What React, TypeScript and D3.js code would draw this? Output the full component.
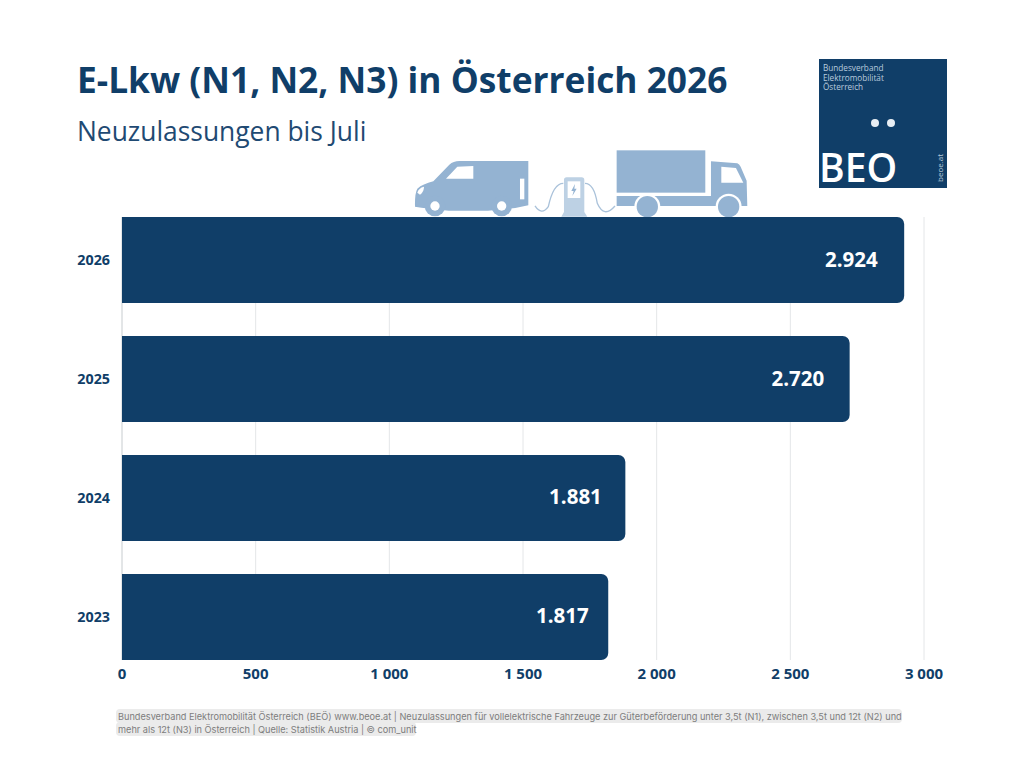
import * as d3 from 'd3';
import React from 'react';

const years = ['2026', '2025', '2024', '2023'];
const registrations = [2924, 2720, 1881, 1817];
const valueLabels = ['2.924', '2.720', '1.881', '1.817'];
const xTicks = [0, 500, 1000, 1500, 2000, 2500, 3000];

const navy = '#103e68';
const iconBlue = '#94b3d2';
const bodyFont = '"Open Sans", sans-serif';
const noteFont = 'Inter, sans-serif';

// labels don't sit at one fixed distance from the bar end in the original
const labelInsets = [26, 25, 23, 19];

const noteLines = [
    'Bundesverband Elektromobilität Österreich (BEÖ) www.beoe.at | Neuzulassungen für vollelektrische Fahrzeuge zur Güterbeförderung unter 3,5t (N1), zwischen 3,5t und 12t (N2) und',
    'mehr als 12t (N3) in Österreich | Quelle: Statistik Austria | © com_unit',
];

const x = d3.scaleLinear().domain([0, 3000]).range([122, 924]);
const y = d3
    .scaleBand<string>()
    .domain(years)
    .range([200.5, 676.5])
    .paddingInner(0.277)
    .paddingOuter(0.139);

// bar with rounded right corners only
const barPath = (x1: number, top: number, h: number, r = 7) => {
    const p = d3.path();
    p.moveTo(x(0), top);
    p.lineTo(x1 - r, top);
    p.arcTo(x1, top, x1, top + r, r);
    p.lineTo(x1, top + h - r);
    p.arcTo(x1, top + h, x1 - r, top + h, r);
    p.lineTo(x(0), top + h);
    p.closePath();
    return p.toString();
};

// drawn 3x and scaled down
const VehicleIcons = () => (
    <g transform="translate(400,140) scale(0.3333)">
        <path
            fill={iconBlue}
            d="M385,63 L178,63 Q160,63 148,74 L100,124 Q68,132 52,146 Q44,160 45,200 L64,203 L146,212 L264,212 L346,204 L385,196 Z"
        />
        <path fill="#fff" d="M138,116 L172,80 L220,78 L220,116 Z" />
        <rect x="360" y="116" width="13" height="62" fill="#fff" />
        <circle cx="105" cy="198" r="31" fill={iconBlue} />
        <circle cx="105" cy="198" r="14" fill="#fff" />
        <circle cx="305" cy="198" r="31" fill={iconBlue} />
        <circle cx="305" cy="198" r="14" fill="#fff" />
        <path fill="#fff" d="M52,158 Q56,144 72,140 Q72,156 60,164 Z" />

        <path fill="none" stroke="#aac2da" strokeWidth="4" d="M405,198 Q425,228 445,200 Q460,130 490,130" />
        <path fill="none" stroke="#aac2da" strokeWidth="4" d="M555,130 Q582,130 592,190 Q612,236 645,198" />
        <path fill="#bdd1e4" d="M492,120 Q492,112 500,112 L545,112 Q553,112 553,120 L553,216 L562,230 L484,230 L492,216 Z" />
        <rect x="503" y="124" width="38" height="50" fill="#fff" />
        <path fill={iconBlue} d="M525,132 L514,153 L521,153 L517,168 L530,146 L523,146 Z" />

        <rect x="650" y="31" width="266" height="127" fill={iconBlue} />
        <path
            fill={iconBlue}
            d="M933,64 L1012,70 Q1018,72 1022,80 L1040,122 L1042,198 L650,198 L650,168 L933,168 Z"
        />
        <path fill="#fff" d="M964,80 L1008,84 L1030,128 L964,128 Z" />
        <circle cx="742" cy="200" r="39" fill="#fff" />
        <circle cx="986" cy="200" r="39" fill="#fff" />
        <circle cx="742" cy="200" r="32" fill={iconBlue} />
        <circle cx="986" cy="200" r="32" fill={iconBlue} />
    </g>
);

const Logo = () => (
    <g>
        <rect x="819" y="59" width="128" height="129" fill={navy} />
        <g fontFamily={bodyFont} fontSize="8.2" fill="#b9cbdd">
            <text x="823" y="71">Bundesverband</text>
            <text x="823" y="80.5">Elektromobilität</text>
            <text x="823" y="90">Österreich</text>
        </g>
        <circle cx="875" cy="123" r="4" fill="#e8eef4" />
        <circle cx="891" cy="123" r="4" fill="#e8eef4" />
        <text x="819" y="182" fontFamily={bodyFont} fontWeight={600} fontSize="39" fill="#fff">BEO</text>
        <text
            transform="translate(943,182) rotate(-90)"
            fontFamily={bodyFont}
            fontSize="8"
            fill="#b9cbdd"
        >
            beoe.at
        </text>
    </g>
);

export default function App() {
    const bandH = y.bandwidth();
    return (
        <svg
            width={1024}
            height={768}
            style={{ position: 'absolute', left: 0, top: 0, background: '#fff' }}
        >
            <text x="77" y="92.5" fontFamily={bodyFont} fontWeight={700} fontSize="35.3" fill={navy}>
                E-Lkw (N1, N2, N3) in Österreich 2026
            </text>
            <text x="77" y="140.5" fontFamily={bodyFont} fontSize="26.4" fill="#1f4a73">
                Neuzulassungen bis Juli
            </text>

            <Logo />

            {xTicks.map((t) => (
                <line key={t} x1={x(t)} x2={x(t)} y1={217} y2={660} stroke="#e4e6e8" strokeWidth={1} />
            ))}
            <line x1={x(0)} x2={x(0)} y1={217} y2={660} stroke="#d5d8db" />

            <VehicleIcons />

            {years.map((year, i) => (
                <g key={year}>
                    <path d={barPath(x(registrations[i]) + 0.5, y(year)!, bandH)} fill={navy} />
                    <text
                        x={x(registrations[i]) - labelInsets[i]}
                        y={y(year)! + bandH / 2 + 6.5}
                        textAnchor="end"
                        fontFamily={bodyFont}
                        fontWeight={700}
                        fontSize="20.5"
                        fill="#fff"
                    >
                        {valueLabels[i]}
                    </text>
                    <text
                        x={110}
                        y={y(year)! + bandH / 2 + 5}
                        textAnchor="end"
                        fontFamily={bodyFont}
                        fontWeight={700}
                        fontSize="14.3"
                        fill={navy}
                    >
                        {year}
                    </text>
                </g>
            ))}

            {xTicks.map((t) => (
                <text
                    key={t}
                    x={x(t)}
                    y={679}
                    textAnchor="middle"
                    fontFamily={bodyFont}
                    fontWeight={700}
                    fontSize="15"
                    fill={navy}
                >
                    {d3.format(',')(t).replace(',', ' ')}
                </text>
            ))}

            <rect x="116" y="709" width="786" height="14" rx="4" fill="#ebebeb" />
            <rect x="116" y="722" width="300" height="14" rx="4" fill="#ebebeb" />
            <g fontFamily={noteFont} fontSize="9.18" fill="#7d7d7d">
                <text x="118" y="720">{noteLines[0]}</text>
                <text x="118" y="733">{noteLines[1]}</text>
            </g>
        </svg>
    );
}
